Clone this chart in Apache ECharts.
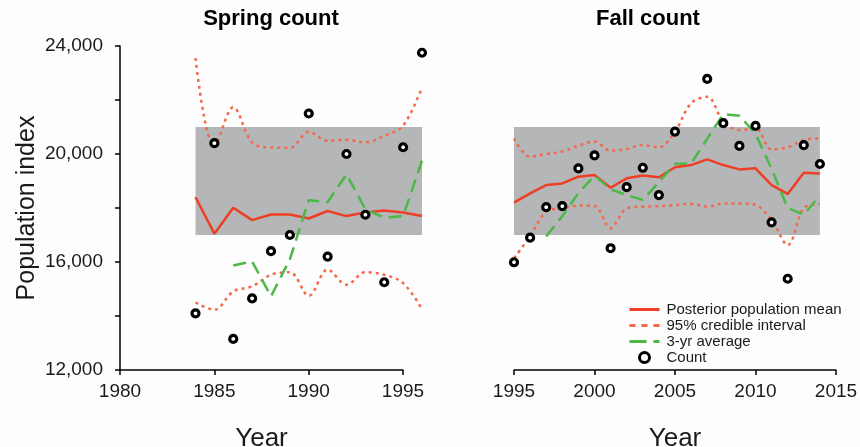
<!DOCTYPE html>
<html>
<head>
<meta charset="utf-8">
<script src="https://cdn.jsdelivr.net/npm/echarts@6/dist/echarts.min.js"></script>
<style>
  html, body { margin: 0; padding: 0; background: #fdfdfe; }
  #chart { width: 860px; height: 447px; }
</style>
</head>
<body>
<div id="chart"></div>
<script>
// ---------- data ----------
var springYears = [1984, 1985, 1986, 1987, 1988, 1989, 1990, 1991, 1992, 1993, 1994, 1995, 1996];
var springCount = [14100, 20400, 13150, 14650, 16400, 17000, 21500, 16200, 20000, 17750, 15250, 20250, 23750];
var springMean  = [18400, 17050, 18010, 17550, 17760, 17760, 17610, 17890, 17700, 17830, 17910, 17830, 17700];
var springUpper = [23550, 20270, 21730, 20430, 20240, 20230, 20820, 20490, 20530, 20430, 20670, 21050, 22470];
var springLower = [14500, 14230, 14910, 15100, 15530, 15620, 14750, 15720, 15160, 15620, 15530, 15220, 14260];
var springAvg   = [null, null, 15870, 16020, 14730, 16100, 18290, 18220, 19250, 17950, 17640, 17700, 19750];

var fallYears = [1995, 1996, 1997, 1998, 1999, 2000, 2001, 2002, 2003, 2004, 2005, 2006, 2007, 2008, 2009, 2010, 2011, 2012, 2013, 2014];
var fallCount = [15990, 16900, 18030, 18070, 19470, 19950, 16510, 18770, 19490, 18480, 20830, null, 22780, 21140, 20300, 21040, 17470, 15380, 20330, 19630];
var fallMean  = [18200, 18540, 18850, 18910, 19160, 19220, 18750, 19100, 19200, 19140, 19510, 19590, 19800, 19590, 19430, 19470, 18850, 18520, 19310, 19280];
var fallUpper = [20580, 19900, 20000, 20090, 20310, 20460, 20120, 20190, 20330, 20250, 20830, 21880, 22120, 21200, 20890, 20950, 20170, 20250, 20520, 20580];
var fallLower = [16140, 16950, 17860, 17990, 18090, 18070, 17250, 17990, 18050, 18070, 18110, 18150, 18050, 18170, 18170, 18110, 17560, 16630, 17990, 18150];
var fallAvg   = [null, null, 16950, 17700, 18550, 19200, 18690, 18480, 18300, 18960, 19640, 19650, 20560, 21480, 21420, 20750, 19450, 18000, 17750, 18460];

// reference band (grey box): [xStart, xEnd, yLow, yHigh]
var springBand = [1984, 1996, 17000, 21000];
var fallBand   = [1995, 2014, 17000, 21000];

var yTicks = [12000, 16000, 20000, 24000];
var panelTitles = ['Spring count', 'Fall count'];
var seriesNames = ['Posterior population mean', '95% credible interval', '3-yr average', 'Count'];

// ---------- styles ----------
var RED = '#ee3f24';
var RED_DOT = '#f3694a';
var GREEN = '#4cb847';
var GREY = '#b5b6b8';
var FONT = 'Liberation Sans, Arial, sans-serif';

function pairs(xs, ys) {
  return xs.map(function (x, i) { return [x, ys[i]]; });
}

function bandSeries(band, idx) {
  return {
    type: 'custom', xAxisIndex: idx, yAxisIndex: idx, clip: false, silent: true, z: 1,
    encode: { x: [0, 1], y: [2, 3] },
    renderItem: function (params, api) {
      var p0 = api.coord([api.value(0), api.value(3)]);
      var p1 = api.coord([api.value(1), api.value(2)]);
      return { type: 'rect', shape: { x: p0[0], y: p0[1], width: p1[0] - p0[0], height: p1[1] - p0[1] },
               style: { fill: GREY } };
    },
    data: [band]
  };
}

function panelSeries(idx, years, mean, upper, lower, avg, count, band) {
  return [
    bandSeries(band, idx),
    { name: seriesNames[0], type: 'line', xAxisIndex: idx, yAxisIndex: idx, clip: false, z: 3,
      symbol: 'none', lineStyle: { color: RED, width: 2.5 }, itemStyle: { color: RED },
      data: pairs(years, mean) },
    { name: seriesNames[1], type: 'line', xAxisIndex: idx, yAxisIndex: idx, clip: false, z: 3,
      symbol: 'none', smooth: 0.35, lineStyle: { color: RED_DOT, width: 2.5, type: [3, 4] }, itemStyle: { color: RED_DOT },
      data: pairs(years, upper) },
    { name: seriesNames[1], type: 'line', xAxisIndex: idx, yAxisIndex: idx, clip: false, z: 3,
      symbol: 'none', smooth: 0.35, lineStyle: { color: RED_DOT, width: 2.5, type: [3, 4] }, itemStyle: { color: RED_DOT },
      data: pairs(years, lower) },
    { name: seriesNames[2], type: 'line', xAxisIndex: idx, yAxisIndex: idx, clip: false, z: 3,
      symbol: 'none', lineStyle: { color: GREEN, width: 2.5, type: [13, 7] }, itemStyle: { color: GREEN },
      data: pairs(years, avg).filter(function (d) { return d[1] !== null; }) },
    { name: seriesNames[3], type: 'scatter', xAxisIndex: idx, yAxisIndex: idx, clip: false, z: 4,
      symbol: 'circle', symbolSize: 7,
      itemStyle: { color: '#ffffff', borderColor: '#000000', borderWidth: 3.2, opacity: 1 },
      data: pairs(years, count).filter(function (d) { return d[1] !== null; }) }
  ];
}

function yAxis(idx, show) {
  return {
    type: 'value', gridIndex: idx, min: 12000, max: 24000, interval: 2000,
    show: show,
    splitLine: { show: false },
    axisLine: { show: true, lineStyle: { color: '#000', width: 1.5 } },
    axisTick: { show: true, length: 5, lineStyle: { color: '#000', width: 1.5 } },
    axisLabel: {
      margin: 17, color: '#1a1a1a', fontSize: 19, fontFamily: FONT,
      formatter: function (v) { return yTicks.indexOf(v) >= 0 ? v.toLocaleString('en-US') : ''; }
    },
    name: show ? 'Population index' : '',
    nameLocation: 'middle', nameGap: 80,
    nameTextStyle: { fontSize: 25, color: '#1a1a1a', fontFamily: FONT }
  };
}

function xAxis(idx, min, max, show) {
  return {
    type: 'value', gridIndex: idx, min: min, max: max, interval: 5, show: show,
    splitLine: { show: false },
    axisLine: { show: true, lineStyle: { color: '#000', width: 1.5 } },
    axisTick: { show: true, length: 5, lineStyle: { color: '#000', width: 1.5 } },
    axisLabel: { margin: 12, color: '#1a1a1a', fontSize: 19, fontFamily: FONT, formatter: function (v) { return String(v); } },
    name: show ? 'Year' : '', nameLocation: 'middle', nameGap: 56,
    nameTextStyle: { fontSize: 26, color: '#1a1a1a', fontFamily: FONT }
  };
}

var hiddenMarker = { color: 'rgba(0,0,0,0)', borderColor: 'rgba(0,0,0,0)', borderWidth: 0 };

var chart = echarts.init(document.getElementById('chart'), null, { renderer: 'canvas' });
chart.setOption({
  backgroundColor: '#fdfdfe',
  animation: false,
  textStyle: { fontFamily: FONT },
  graphic: [
    { type: 'text', x: 271, y: 19, style: { text: panelTitles[0], font: 'bold 22px ' + FONT, fill: '#000', align: 'center', verticalAlign: 'middle' } },
    { type: 'text', x: 648, y: 19, style: { text: panelTitles[1], font: 'bold 22px ' + FONT, fill: '#000', align: 'center', verticalAlign: 'middle' } }
  ],
  legend: {
    orient: 'vertical', left: 623, top: 297, itemWidth: 30, itemHeight: 10, itemGap: 1,
    textStyle: { fontSize: 15, color: '#1a1a1a', fontFamily: FONT, padding: [0, 0, 0, 2] },
    data: [
      { name: seriesNames[0], itemStyle: hiddenMarker, lineStyle: { width: 3 } },
      { name: seriesNames[1], itemStyle: hiddenMarker, lineStyle: { width: 3, type: [6, 6] } },
      { name: seriesNames[2], itemStyle: hiddenMarker, lineStyle: { width: 3, type: [17, 7] } },
      { name: seriesNames[3], icon: 'circle', itemStyle: { color: '#fff', borderColor: '#000', borderWidth: 3 } }
    ],
    selectedMode: false
  },
  grid: [
    { left: 120, top: 46, width: 283, height: 324, outerBoundsMode: 'none', containLabel: false },   // spring axes (1980-1995)
    { left: 514, top: 46, width: 322, height: 324, outerBoundsMode: 'none', containLabel: false },   // fall axes + data
    { left: 120, top: 46, width: 302, height: 324, outerBoundsMode: 'none', containLabel: false }    // spring data (1980-1996)
  ],
  xAxis: [xAxis(0, 1980, 1995, true), xAxis(1, 1995, 2015, true), xAxis(2, 1980, 1996, false)],
  yAxis: [yAxis(0, true), yAxis(1, false), yAxis(2, false)],
  series: [].concat(
    panelSeries(2, springYears, springMean, springUpper, springLower, springAvg, springCount, springBand),
    panelSeries(1, fallYears, fallMean, fallUpper, fallLower, fallAvg, fallCount, fallBand)
  )
});
</script>
</body>
</html>
